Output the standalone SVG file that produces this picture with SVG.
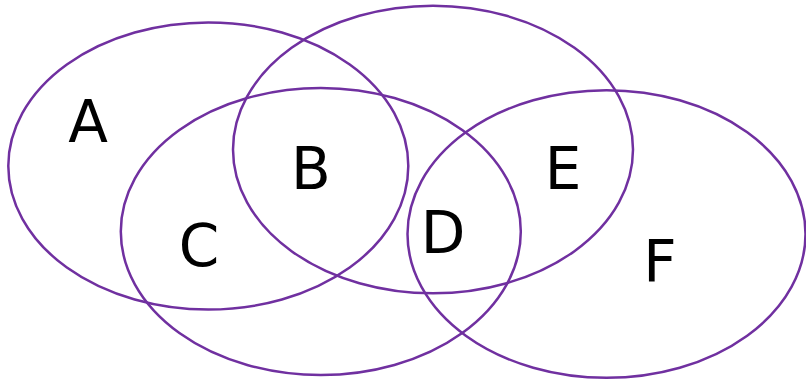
<svg xmlns="http://www.w3.org/2000/svg" width="806" height="381" viewBox="0 0 806 381">
<style>
.set{fill:none;stroke:#7030A0;stroke-width:2.5}
.lbl{font-family:"DejaVu Sans",sans-serif;font-size:58px;fill:#000;text-anchor:middle}
</style>
<rect width="806" height="381" fill="#fff"/>
<g id="set-A"><ellipse class="set" cx="208.3" cy="166" rx="200" ry="143.6"/></g>
<g id="set-B"><ellipse class="set" cx="433" cy="149.5" rx="200" ry="143.8"/></g>
<g id="set-C"><ellipse class="set" cx="320.8" cy="231.5" rx="200" ry="143.5"/></g>
<g id="set-F"><ellipse class="set" cx="606.5" cy="234" rx="199" ry="143.8"/></g>
<g id="labels">
<text class="lbl" x="88" y="142">A</text>
<text class="lbl" x="311" y="189">B</text>
<text class="lbl" x="199" y="266">C</text>
<text class="lbl" x="443" y="253">D</text>
<text class="lbl" x="563" y="189">E</text>
<text class="lbl" x="660" y="282">F</text>
</g>
</svg>
